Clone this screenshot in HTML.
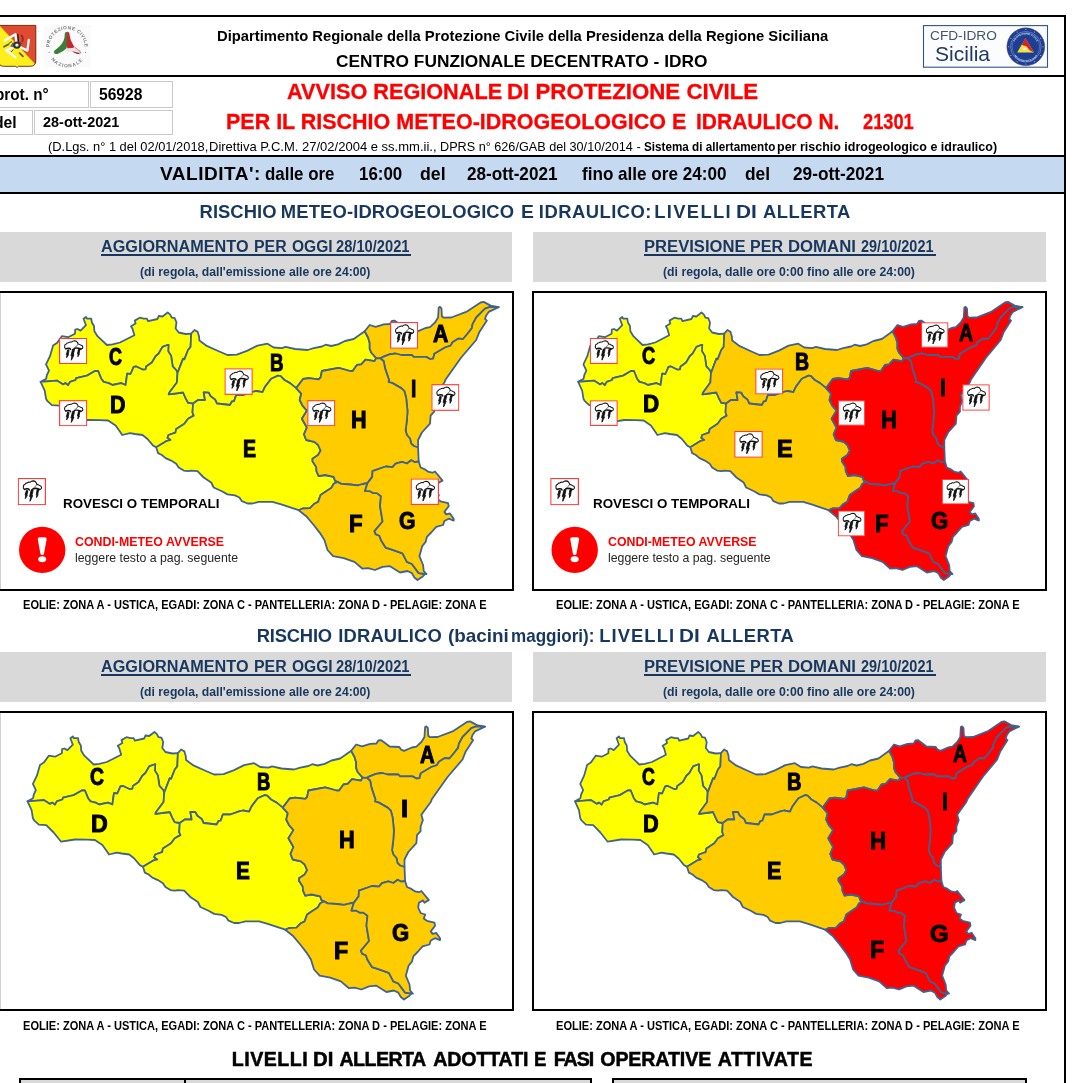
<!DOCTYPE html>
<html lang="it"><head><meta charset="utf-8"><title>Avviso regionale di protezione civile</title>
<style>
html,body{margin:0;padding:0;background:#fff}
html{width:1080px;height:1083px;overflow:hidden}
body{width:1080px;height:1083px;position:relative;overflow:hidden;font-family:"Liberation Sans",sans-serif}
.a{position:absolute}
.t{position:absolute;white-space:pre;line-height:1;transform-origin:0 0;font-weight:bold;margin:0}
.k{background:#000}
.g{background:#d9d9d9}
.bx{position:absolute;border:2px solid #000;box-sizing:border-box;background:#fff}
.cell{position:absolute;border:1px solid #c9c9c9;box-sizing:border-box}
</style></head><body>
<div class="a k" style="left:0;top:15px;width:1066px;height:2px"></div>
<div class="a k" style="left:1064px;top:15px;width:2px;height:1068px"></div>
<div class="a k" style="left:0;top:75px;width:1066px;height:2px"></div>
<div class="a" style="left:0;top:155px;width:1064px;height:39px;box-sizing:border-box;border-top:2px solid #000;border-bottom:2px solid #000;background:#c5d9f1"></div>
<div class="cell" style="left:-20px;top:81px;width:109px;height:27px"></div>
<div class="cell" style="left:90px;top:81px;width:83px;height:27px"></div>
<div class="cell" style="left:-20px;top:110px;width:53px;height:25px"></div>
<div class="cell" style="left:34px;top:110px;width:139px;height:25px"></div>
<div class="a g" style="left:0;top:232px;width:512px;height:50px"></div>
<div class="a g" style="left:532.5px;top:232px;width:513.5px;height:50px"></div>
<div class="bx" style="left:-2px;top:291px;width:515.5px;height:300px"></div>
<div class="a" style="left:0;top:293px;width:1px;height:296px;background:#cfcfcf"></div>
<div class="bx" style="left:532px;top:291px;width:515px;height:300px"></div>
<div class="a g" style="left:0;top:651.5px;width:512px;height:50px"></div>
<div class="a g" style="left:532.5px;top:651.5px;width:513.5px;height:50px"></div>
<div class="bx" style="left:-2px;top:710.5px;width:515.5px;height:300px"></div>
<div class="a" style="left:0;top:712.5px;width:1px;height:296px;background:#cfcfcf"></div>
<div class="bx" style="left:532px;top:710.5px;width:515px;height:300px"></div>
<div class="a" style="left:19px;top:1078px;width:573px;height:5px;box-sizing:border-box;border:2px solid #000;border-bottom:0;background:#d9d9d9"></div>
<div class="a k" style="left:184px;top:1078px;width:2px;height:5px"></div>
<div class="a" style="left:612px;top:1078px;width:415px;height:5px;box-sizing:border-box;border:2px solid #000;border-bottom:0;background:#d9d9d9"></div>
<svg class="a" style="left:0;top:0" width="1080" height="1083" viewBox="0 0 1080 1083">
<defs>
<path id="zC" d="M40.6,381.9 46.2,378.7 46.9,375 49,370.6 46,364.4 50,356.2 53.1,345.6 56.9,343.1 61.9,336.2 68.1,337.2 75,333.7 75.2,329.7 77.5,329 80.6,330.6 86,325.2 83.5,318.7 86,316.9 86.9,318.5 91.2,318.7 91.9,322.5 94,326 94.4,331.2 97.5,336.2 106.9,345 112.5,344.4 120,342.5 134.4,335.2 132.5,328.7 131,326.2 135.6,323.5 134.7,320.6 139.7,317.7 143.7,318.7 146.9,318.7 148.1,321.2 157.5,319 158.7,316 162.5,316.5 167.7,312.5 170,314.4 171.9,317.7 174.7,318.1 176.5,322.5 175.6,328.5 178.7,332.5 185.6,334 191.2,333.7 190.6,346.9 188.1,350 184.4,359.4 183.1,358.7 177.5,373.1 176.5,370.5 172.7,366.3 171.1,355.9 168.2,351.1 168.5,344.8 167.5,345 162.5,346.9 158.7,353.5 155.6,356.2 151.9,362.5 146.2,366.5 145.6,369.4 143.1,369.7 136.2,366.5 133.7,366.9 130.6,374 127.2,373.7 125.6,385 121.2,383.1 112.5,385 108.7,383.1 103.7,381.9 101.2,378.7 98.1,371 95,371 86.9,375.6 76.2,378.1 75.6,380 70,381.9 68.1,385.2 65.6,383.1 63.1,384.4 56.9,380.6Z"/>
<path id="zD" d="M40.6,381.9 56.9,380.6 63.1,384.4 65.6,383.1 68.1,385.2 70,381.9 75.6,380 76.2,378.1 86.9,375.6 95,371 98.1,371 101.2,378.7 103.7,381.9 108.7,383.1 112.5,385 121.2,383.1 125.6,385 127.2,373.7 130.6,374 133.7,366.9 136.2,366.5 143.1,369.7 145.6,369.4 146.2,366.5 151.9,362.5 155.6,356.2 158.7,353.5 162.5,346.9 167.5,345 168.5,344.8 168.2,351.1 171.1,355.9 172.7,366.3 176.5,370.5 177.5,373.1 176.9,382.5 169.4,392.5 168.7,394.4 183.1,392.5 185.6,398.1 188.1,402.7 193.1,403.5 192.5,412.5 193.7,415.6 188.1,418.7 184.4,423.7 176.2,429 175.4,432.7 168.5,435 167.5,437.7 170.6,440 166.2,441.2 156.2,447.2 153.1,445.6 147.5,439 142.5,435 135,434 130,433.1 122.2,435 120.6,432.5 115.6,425.5 108.1,420.5 100,420.2 88.1,420 74.3,422.2 66.8,413 59.4,405.6 51.9,405.2 47.5,401.2 46,398.7 44.7,390.6Z"/>
<path id="zB" d="M191.2,333.7 194.4,330 197.7,331.9 199,336.2 199.4,340.6 206.2,345.6 218.7,351.2 227.5,355 236.9,354.7 247.5,350.6 257.5,345.6 267.5,343.7 273.7,347.5 281.9,348.1 285.6,346.9 295,349 307.5,350 313.7,348.1 321.9,346.5 325.6,344.7 331.2,346 338.1,344.4 345,341 353.7,339 358.7,335.6 364.7,331.2 368.1,337.5 369.7,343.1 369.7,348.7 371.2,352.5 376.2,358.1 374.4,361.2 365.6,359.7 361.2,364.4 356.9,365 352.5,371.2 350,371 338.7,367.9 321.9,371 320.6,377.5 318.7,379.4 308.7,378.1 303.1,379 296.2,388.1 290,383.1 284.4,380 280.6,376.2 278.1,375.6 271.2,378.7 265,386.9 262.5,392.2 256.2,391 252.5,391.9 243.7,395 236.2,395 234,401.2 231.9,401.5 230,405 216.9,403.5 215,399.4 210.6,396.2 208.7,392.7 203.7,392.5 205,400 198.1,400 193.1,403.5 188.1,402.7 185.6,398.1 183.1,392.5 168.7,394.4 169.4,392.5 176.9,382.5 177.5,373.1 183.1,358.7 184.4,359.4 188.1,350 190.6,346.9Z"/>
<path id="zA" d="M364.7,331.2 369.7,325 375.6,326.9 383.7,324.4 390,324 391.9,321 394.4,320.6 396.9,322.2 403.2,327 412.9,327.5 414.8,330.2 417.6,331.4 425.5,328 430,327.2 435,322.5 438.1,317.5 438.7,307.5 440,306.9 441.5,308.7 441.9,316.2 443.7,317.7 451.2,317.5 466.2,311.9 480.6,302.5 483.7,301.9 490.6,305.6 498.7,307.1 490,306.9 485,308.7 476.2,317.5 472.5,324.4 471.9,328.1 467.5,333.7 463.1,339 458.1,338.7 452.5,342.2 450.6,345.6 445,347.5 434.4,353.7 433.1,358.7 430,359 426.2,356.9 413.7,356.9 411.9,355 401.2,355 395.6,353.5 389.4,354.4 382.5,357.2 380.3,358.3 376.2,358.1 371.2,352.5 369.7,348.7 369.7,343.1 368.1,337.5Z"/>
<path id="zI" d="M498.7,307.1 488.7,311.9 486.2,315.6 485,319 486.9,320.6 479.4,331.9 476.2,340 461.2,357.5 445.6,379.4 444.4,382.5 435,395.2 436.5,400.7 434.2,407 434.2,411.7 430.6,415.6 430,423.7 421.9,432.5 418.1,440 418.1,447.5 413.7,446 411.2,443.7 410,438.5 406.9,435 405.6,430.6 406.9,420 407.5,411.2 406.2,398.1 404.4,391.2 401.2,388.1 392.5,383.1 388.5,381.9 389,380 385,368.1 383.7,361.2 380.3,358.3 382.5,357.2 389.4,354.4 395.6,353.5 401.2,355 411.9,355 413.7,356.9 426.2,356.9 430,359 433.1,358.7 434.4,353.7 445,347.5 450.6,345.6 452.5,342.2 458.1,338.7 463.1,339 467.5,333.7 471.9,328.1 472.5,324.4 476.2,317.5 485,308.7 490,306.9Z"/>
<path id="zH" d="M296.2,388.1 303.1,379 308.7,378.1 318.7,379.4 320.6,377.5 321.9,371 338.7,367.9 350,371 352.5,371.2 356.9,365 361.2,364.4 365.6,359.7 374.4,361.2 376.2,358.1 380.3,358.3 383.7,361.2 385,368.1 389,380 388.5,381.9 392.5,383.1 401.2,388.1 404.4,391.2 406.2,398.1 407.5,411.2 406.9,420 405.6,430.6 406.9,435 410,438.5 411.2,443.7 413.7,446 418.1,447.5 418.7,461.5 415,462.2 411.2,460.2 406.9,463.5 401.9,461.9 395.6,463.7 392.5,467.2 385.6,466.5 372.5,471.2 372.2,476.9 367.5,483.1 363.1,484 357.5,485.4 350,484.5 341.2,483.9 337.5,481.9 335,480.6 333.7,476.9 325,475 318.7,476.2 316.5,471.2 316.2,466.9 312.5,461.2 312.5,458.7 318.1,455 320.6,450.6 318.1,445 314.4,441.9 306.2,440 304,434.4 306.9,427.5 301.9,418.7 306.9,410.6 302.5,405.6 299.7,400 301.2,393.7Z"/>
<path id="zE" d="M193.1,403.5 198.1,400 205,400 203.7,392.5 208.7,392.7 210.6,396.2 215,399.4 216.9,403.5 230,405 231.9,401.5 234,401.2 236.2,395 243.7,395 252.5,391.9 256.2,391 262.5,392.2 265,386.9 271.2,378.7 278.1,375.6 280.6,376.2 284.4,380 290,383.1 296.2,388.1 301.2,393.7 299.7,400 302.5,405.6 306.9,410.6 301.9,418.7 306.9,427.5 304,434.4 306.2,440 314.4,441.9 318.1,445 320.6,450.6 318.1,455 312.5,458.7 312.5,461.2 316.2,466.9 316.5,471.2 318.7,476.2 325,475 333.7,476.9 335,480.6 337.5,481.9 333.7,483.7 331.2,488.1 326.2,491.2 320.6,495 318.1,501.9 314.4,503.7 310,508.1 302.5,508.5 298.7,510.2 281.2,504.4 272.5,501.9 258.7,501.9 252.5,503.5 247.5,503.5 241.9,501.2 239.4,497.5 235,495.4 227.5,494.4 221.9,491.2 213.7,487.5 211.2,482.5 203.7,477.5 197.5,471.2 191.2,470.6 188.1,471.2 183.7,470.6 178.7,467.5 176.2,463.7 171.2,460.6 165.6,458.1 161.9,455 158.1,453.1 156.2,447.2 166.2,441.2 170.6,440 167.5,437.7 168.5,435 175.4,432.7 176.2,429 184.4,423.7 188.1,418.7 193.7,415.6 192.5,412.5Z"/>
<path id="zF" d="M337.5,481.9 341.2,483.9 350,484.5 357.5,485.4 363.1,484 367.5,483.1 365,491 370,491.2 373.1,493.1 376.9,493.1 381,496.2 380,506 382.6,521.5 374.5,531.1 375.6,534.1 379.4,535.8 381.2,540.6 385.6,547.6 391.2,549.4 402.5,553.4 406.9,561.9 411.9,564 418.7,573.1 425,574 423.1,576.2 417.5,580 414.4,577.5 411.9,573.1 407.5,571 400,572.5 390,566.2 382.5,566.9 375,570 368.1,568.1 362.5,568.7 354.4,561.9 343.7,558.1 333.1,556.2 327.5,550 324.4,540 320,533.1 313.7,525 306.2,516.2 298.7,510.2 302.5,508.5 310,508.1 314.4,503.7 318.1,501.9 320.6,495 326.2,491.2 331.2,488.1 333.7,483.7Z"/>
<path id="zG" d="M367.5,483.1 372.2,476.9 372.5,471.2 385.6,466.5 392.5,467.2 395.6,463.7 401.9,461.9 406.9,463.5 411.2,460.2 415,462.2 418.7,461.5 420.6,467.5 425,469.4 428.7,471.9 432.5,472.7 435,471.5 442.5,480.6 440,481.9 438.1,483.2 436.6,480.9 432.6,483.2 431.8,488 434.2,493.5 438.9,495 437.4,499 440.5,501.3 448.1,503.1 448.7,506.2 444.4,511.9 446.2,514.4 450,513.5 453.7,518.7 453.7,520.6 448.7,518.7 444.4,521 443.1,525 436.2,526.9 431.2,532.5 426.9,536.9 425.6,541.9 422.2,546.2 419.4,556.2 423.1,565 423.7,571 426.5,574 425,574 418.7,573.1 411.9,564 406.9,561.9 402.5,553.4 391.2,549.4 385.6,547.6 381.2,540.6 379.4,535.8 375.6,534.1 374.5,531.1 382.6,521.5 380,506 381,496.2 376.9,493.1 373.1,493.1 370,491.2 365,491Z"/>
</defs>
<g transform="matrix(1.0000 0 0 1.0000 0.00 0.00)" stroke="#3f628f" stroke-width="1.8" stroke-linejoin="round">
<use href="#zC" fill="#ffff00"/><use href="#zD" fill="#ffff00"/><use href="#zB" fill="#ffff00"/><use href="#zE" fill="#ffff00"/><use href="#zA" fill="#ffcc00"/><use href="#zI" fill="#ffcc00"/><use href="#zH" fill="#ffcc00"/><use href="#zF" fill="#ffcc00"/><use href="#zG" fill="#ffcc00"/>
</g>
<g transform="matrix(0.9699 0 0 1.0000 538.82 0.00)" stroke="#3f628f" stroke-width="1.8" stroke-linejoin="round">
<use href="#zC" fill="#ffff00"/><use href="#zD" fill="#ffff00"/><use href="#zB" fill="#ffcc00"/><use href="#zE" fill="#ffcc00"/><use href="#zA" fill="#ff0000"/><use href="#zI" fill="#ff0000"/><use href="#zH" fill="#ff0000"/><use href="#zF" fill="#ff0000"/><use href="#zG" fill="#ff0000"/>
</g>
<g transform="matrix(0.9987 0 0 1.0000 -13.05 419.50)" stroke="#3f628f" stroke-width="1.8" stroke-linejoin="round">
<use href="#zC" fill="#ffff00"/><use href="#zD" fill="#ffff00"/><use href="#zB" fill="#ffff00"/><use href="#zE" fill="#ffff00"/><use href="#zA" fill="#ffcc00"/><use href="#zI" fill="#ffcc00"/><use href="#zH" fill="#ffcc00"/><use href="#zF" fill="#ffcc00"/><use href="#zG" fill="#ffcc00"/>
</g>
<g transform="matrix(0.9692 0 0 1.0000 535.65 419.50)" stroke="#3f628f" stroke-width="1.8" stroke-linejoin="round">
<use href="#zC" fill="#ffff00"/><use href="#zD" fill="#ffff00"/><use href="#zB" fill="#ffcc00"/><use href="#zE" fill="#ffcc00"/><use href="#zA" fill="#ff0000"/><use href="#zI" fill="#ff0000"/><use href="#zH" fill="#ff0000"/><use href="#zF" fill="#ff0000"/><use href="#zG" fill="#ff0000"/>
</g>
<circle cx="42.2" cy="549.9" r="23.2" fill="#ff0000"/>
<path d="M37.8,539.5 Q37.6,537.2 40,537.2 L44.4,537.2 Q46.8,537.2 46.6,539.5 L44,553.7 Q43.8,555.1 42.2,555.1 Q40.6,555.1 40.4,553.7Z" fill="#fff"/>
<ellipse cx="42.2" cy="559.2" rx="4" ry="3" fill="#fff"/>
<circle cx="574.7" cy="549.9" r="23.2" fill="#ff0000"/>
<path d="M570.3,539.5 Q570.1,537.2 572.5,537.2 L576.9,537.2 Q579.3,537.2 579.1,539.5 L576.5,553.7 Q576.3,555.1 574.7,555.1 Q573.1,555.1 572.9,553.7Z" fill="#fff"/>
<ellipse cx="574.7" cy="559.2" rx="4" ry="3" fill="#fff"/>
<symbol id="wx" viewBox="0 0 28 27" preserveAspectRatio="none">
<rect x="0.6" y="0.6" width="26.8" height="25.8" fill="#fff" stroke="#ff3b3b" stroke-width="1.15"/>
<path d="M6.6,11.2 Q5.2,10.4 5.6,8.6 Q5.4,6.8 7.2,6.4 Q7.6,5 9.4,4.9 Q10.4,3.9 12.4,4.3 Q13.4,3 15.4,2.9 Q17.4,3 18.2,4.6 Q18.8,5.4 18.9,6.4 Q20.4,6.6 21.4,7.4 Q23.4,7.8 23.6,9.4 Q23.8,11 22,11.4" fill="none" stroke="#111" stroke-width="1.05" stroke-linejoin="round" stroke-linecap="round"/>
<path d="M18.9,6.4 Q18.4,8.4 16.2,9.4" fill="none" stroke="#444" stroke-width="0.7" stroke-linecap="round"/>
<path d="M6.8,11.3 Q8.6,10.2 10.8,10.9 L11.4,11.9 M15.2,10.6 Q18,9.8 21.8,11.3 L20,12.2" fill="none" stroke="#111" stroke-width="1.5" stroke-linecap="round" stroke-linejoin="round"/>
<path d="M9.9,12.4 Q9.8,15.2 9,17 L9.5,17.2 Q8.6,19 7.5,20.4 Q7.7,18.4 8,17.2 L7.3,17 Q8,14.6 8.5,12.4Z M15.3,11.5 Q15,14.6 14,17.2 L14.8,17.4 Q13.6,20.4 12.2,23 Q12.4,20.6 12.8,18.6 L11.8,18.4 Q12.6,15 13.5,11.5Z M20.5,11.8 Q20.4,14.4 19.8,16.2 L20.2,16.4 Q19.6,18 18.7,19.4 Q18.7,17.8 18.9,16.6 L18.3,16.4 Q18.8,14 19.2,11.8Z" fill="#111" stroke="#111" stroke-width="0.9" stroke-linejoin="round"/>
</symbol>
<!-- Regione Siciliana coat of arms -->
<g>
<clipPath id="shc"><path d="M-1.6,25.4 H35.8 V61 Q35.6,66.2 30.4,66.3 H18.5 L17.1,67.5 L15.7,66.3 H3.8 Q-1.4,66.2 -1.6,61Z"/></clipPath>
<g clip-path="url(#shc)">
<rect x="-3" y="24" width="40" height="45" fill="#fdee1c"/>
<path d="M-1.9,24 L37,24 L37,66.1Z" fill="#df4a30"/>
<g stroke="#fff" stroke-width="2.3" fill="none" stroke-linecap="round" stroke-linejoin="round">
<path d="M16.5,43.5 L15.4,34.2 L4.8,40.6"/><path d="M19,46.5 L27.4,50.6 L28.8,39.8"/><path d="M15,46.5 L6.2,50.4 L15.4,57.2"/>
</g>
<path d="M17.8,34.5 L18.6,42.5" stroke="#1e1e22" stroke-width="1.3" fill="none" stroke-linecap="round"/>
<path d="M21.6,35.4 Q23.6,38 22.4,41.4" stroke="#a6291f" stroke-width="1.9" fill="none" stroke-linecap="round"/>
<g stroke="#5d5a1c" stroke-width="1.7" fill="none" stroke-linecap="round">
<path d="M4,46.8 L8.6,44.2 M19.6,53.2 L23,56.4"/>
</g>
<path d="M12,41.5 L9,43.2 M13.5,49.5 L11,52 M20.5,42.5 L22.4,44" stroke="#3a3a30" stroke-width="0.9" fill="none"/>
<path d="M13.4,41.6 L10.2,46.4 L13.6,47.4Z" fill="#5b6470"/>
<ellipse cx="16.9" cy="45.1" rx="3.9" ry="3.6" fill="#2c3037"/>
<circle cx="16.9" cy="45.1" r="1.7" fill="#f1ece2"/>
</g>
<path d="M-1.6,25.4 H35.8 V61 Q35.6,66.2 30.4,66.3 H18.5 L17.1,67.5 L15.7,66.3 H3.8 Q-1.4,66.2 -1.6,61Z" fill="none" stroke="#5f2410" stroke-width="0.9"/>
</g>
<!-- Protezione Civile Nazionale -->
<g>
<rect x="44" y="25" width="46.7" height="42.5" fill="#fafafa"/>
<path id="pcT" d="M52.86,56.84 A17.5,17.5 0 1 1 81.54,56.84" fill="none"/>
<path id="pcB" d="M46.60,46.80 A20.6,20.6 0 0 0 87.80,46.80" fill="none"/>
<text font-family="Liberation Sans, sans-serif" font-size="4.8" font-weight="bold" fill="#7a7a7a" letter-spacing="0.45"><textPath href="#pcT" startOffset="50%" text-anchor="middle">PROTEZIONE CIVILE</textPath></text>
<text font-family="Liberation Sans, sans-serif" font-size="4.8" font-weight="bold" fill="#7a7a7a" letter-spacing="1.0"><textPath href="#pcB" startOffset="50%" text-anchor="middle">NAZIONALE</textPath></text>
<circle cx="49.1" cy="52.4" r="0.6" fill="#888"/><circle cx="85.5" cy="52.4" r="0.6" fill="#888"/>
<path d="M67.1,31.8 Q64.6,31.8 64.7,35 Q64.8,41 59.6,46.2 Q56.4,49 54.6,50.6 Q53.2,52.2 54.4,53.6 Q56,54.6 58.6,53.4 Q63.6,51.4 66.4,48.6 Q67.8,45 67.3,40 Z" fill="#3d7d3a"/>
<path d="M67.1,31.8 Q69.6,31.8 69.6,35 Q70,40 73.2,45 L74.8,47.4 Q71,48.6 67.2,48.4 Q66.6,44 67,38 Z" fill="#cc2230"/>
<path d="M66.4,48.4 Q71,48.8 74.8,47.2 Q77.6,49.8 80,51.2 Q81,52.6 80,53.8 Q76,51.4 66.2,51.4 Z" fill="#e9e4e4"/>
<path d="M74.8,47.2 Q77.6,49.8 80,51.2 Q81,52.6 80,53.8" fill="none" stroke="#c23a48" stroke-width="0.7"/>
<path d="M72,51.2 Q77,52 79.9,53.6 Q78.6,54.6 76,53.6 Q74.4,52.8 72,51.2Z" fill="#a9283c"/>
</g>
<!-- CFD-IDRO Sicilia -->
<g>
<rect x="923.5" y="25.6" width="124" height="41.6" fill="#fbfcfe" stroke="#2f5496" stroke-width="1.1"/>
<circle cx="1025.8" cy="46.8" r="19" fill="#1d3f93"/>
<circle cx="1025.8" cy="46.8" r="18.9" fill="none" stroke="#6b4b55" stroke-width="0.5"/>
<circle cx="1025.8" cy="46.8" r="15.3" fill="none" stroke="#aebfe6" stroke-width="0.45"/>
<circle cx="1025.8" cy="46.8" r="13.8" fill="none" stroke="#aebfe6" stroke-width="0.35"/>
<path id="emT" d="M1013.6,46.8 A12.2,12.2 0 0 1 1038,46.8" fill="none"/>
<path id="emB" d="M1011.6,47.8 A14.2,14.2 0 0 0 1040,47.8" fill="none"/>
<text font-family="Liberation Sans, sans-serif" font-size="2.6" font-weight="bold" fill="#c9d6f2" letter-spacing="0.1"><textPath href="#emT" startOffset="50%" text-anchor="middle">PROTEZIONE CIVILE</textPath></text>
<text font-family="Liberation Sans, sans-serif" font-size="2.6" font-weight="bold" fill="#c9d6f2" letter-spacing="0.1"><textPath href="#emB" startOffset="50%" text-anchor="middle">REGIONE SICILIANA</textPath></text>
<g fill="#c9d6f2">
<circle cx="1025.8" cy="29.6" r="0.5"/><circle cx="1025.8" cy="64" r="0.5"/><circle cx="1008.6" cy="46.8" r="0.5"/><circle cx="1043" cy="46.8" r="0.5"/>
<circle cx="1017.2" cy="31.9" r="0.5"/><circle cx="1034.4" cy="31.9" r="0.5"/><circle cx="1017.2" cy="61.7" r="0.5"/><circle cx="1034.4" cy="61.7" r="0.5"/>
<circle cx="1010.9" cy="38.2" r="0.5"/><circle cx="1040.7" cy="38.2" r="0.5"/><circle cx="1010.9" cy="55.4" r="0.5"/><circle cx="1040.7" cy="55.4" r="0.5"/>
</g>
<path d="M1025.4,38.2 L1034,52.6 L1017.2,52.6Z" fill="#f2e23a"/>
<path d="M1025.4,38.2 L1034,52.6 L1030,50.4 L1026.6,46.6 L1021.6,44.8Z" fill="#d4202c"/>
<path d="M1023,47.6 L1027.6,48.2 L1026,50.4 L1022.6,49.6Z" fill="#efe9d8"/>
</g>
<use href="#wx" x="59" y="337.9" width="28.3" height="26.2"/>
<use href="#wx" x="59" y="400.1" width="28.3" height="26.2"/>
<use href="#wx" x="224.4" y="368.2" width="28.4" height="26.7"/>
<use href="#wx" x="390" y="321.9" width="28.2" height="26.9"/>
<use href="#wx" x="307.2" y="400.1" width="28.1" height="26.2"/>
<use href="#wx" x="431.3" y="384.1" width="28.1" height="26.8"/>
<use href="#wx" x="410.6" y="478.4" width="28.4" height="26.6"/>
<use href="#wx" x="17.7" y="477.9" width="28.3" height="27.4"/>
<use href="#wx" x="589.7" y="337.9" width="28.1" height="26.1"/>
<use href="#wx" x="589.7" y="400.2" width="28.1" height="25.8"/>
<use href="#wx" x="755.2" y="368.4" width="28.1" height="26.1"/>
<use href="#wx" x="734.2" y="430.9" width="28.6" height="26.9"/>
<use href="#wx" x="837.7" y="510.4" width="27.6" height="26.1"/>
<use href="#wx" x="941.7" y="478.9" width="27.3" height="25.6"/>
<use href="#wx" x="920.9" y="322.2" width="27.6" height="25.6"/>
<use href="#wx" x="962.2" y="384.2" width="27.6" height="26.6"/>
<use href="#wx" x="837.9" y="400.2" width="27.4" height="25.6"/>
<use href="#wx" x="550.2" y="477.9" width="28.8" height="27.4"/>
</svg>
<div class="a" style="left:101px;top:254px;width:310.3px;height:2px;background:#17375e"></div>
<div class="a" style="left:643.7px;top:254px;width:291.9px;height:2px;background:#17375e"></div>
<div class="a" style="left:101px;top:674px;width:310.3px;height:2px;background:#17375e"></div>
<div class="a" style="left:643.7px;top:674px;width:291.9px;height:2px;background:#17375e"></div>
<div class="t" style="left:216.58px;top:29.00px;font-size:14.75px;transform:scaleX(1.0024)">Dipartimento Regionale della Protezione Civile della Presidenza della Regione Siciliana</div>
<div class="t" style="left:336.46px;top:53.00px;font-size:17.24px;transform:scaleX(1.0041)">CENTRO FUNZIONALE DECENTRATO - IDRO</div>
<div class="t" style="left:-5.45px;top:87.00px;font-size:16px;transform:scaleX(0.9539)">prot. n°</div>
<div class="t" style="left:99.46px;top:86.00px;font-size:16.3px;transform:scaleX(0.9582)">56928</div>
<div class="t" style="left:-6.49px;top:115.00px;font-size:16px;transform:scaleX(0.9828)">del</div>
<div class="t" style="left:43.25px;top:115.00px;font-size:14.3px;transform:scaleX(1.0107)">28-ott-2021</div>
<div class="t" style="left:286.51px;top:81.00px;font-size:22px;color:#f00;transform:scaleX(0.9849);-webkit-text-stroke:0.3px #f00">AVVISO REGIONALE</div>
<div class="t" style="left:506.76px;top:81.00px;font-size:22px;color:#f00;transform:scaleX(1.0123);-webkit-text-stroke:0.3px #f00">DI PROTEZIONE CIVILE</div>
<div class="t" style="left:226.01px;top:111.00px;font-size:22px;color:#f00;transform:scaleX(0.9763);-webkit-text-stroke:0.3px #f00">PER IL RISCHIO METEO-IDROGEOLOGICO E</div>
<div class="t" style="left:696.34px;top:111.00px;font-size:22px;color:#f00;transform:scaleX(0.9543);-webkit-text-stroke:0.3px #f00">IDRAULICO N.</div>
<div class="t" style="left:863.28px;top:111.00px;font-size:22px;color:#f00;transform:scaleX(0.8291);-webkit-text-stroke:0.3px #f00">21301</div>
<div class="t" style="left:48.10px;top:140.00px;font-size:13.4px;font-weight:normal;transform:scaleX(0.9602)">(D.Lgs. n° 1 del 02/01/2018,</div>
<div class="t" style="left:209.48px;top:140.00px;font-size:13.4px;font-weight:normal;transform:scaleX(0.9716)">Direttiva P.C.M. 27/02/2004 e ss.mm.ii.,</div>
<div class="t" style="left:439.71px;top:140.00px;font-size:13.4px;font-weight:normal;transform:scaleX(0.9449)">DPRS n° 626/GAB del 30/10/2014 -</div>
<div class="t" style="left:643.52px;top:140.00px;font-size:13.4px;transform:scaleX(0.8733)">Sistema di allertamento</div>
<div class="t" style="left:777.22px;top:140.00px;font-size:13.4px;transform:scaleX(0.9331)">per rischio idrogeologico e idraulico)</div>
<div class="t" style="left:160.00px;top:164.00px;font-size:19px;letter-spacing:0.516px">VALIDITA':</div>
<div class="t" style="left:265.47px;top:164.00px;font-size:19px;transform:scaleX(0.8887)">dalle ore</div>
<div class="t" style="left:359.44px;top:164.00px;font-size:19px;transform:scaleX(0.8898)">16:00</div>
<div class="t" style="left:420.45px;top:164.00px;font-size:19px;transform:scaleX(0.9326)">del</div>
<div class="t" style="left:466.96px;top:164.00px;font-size:19px;transform:scaleX(0.9018)">28-ott-2021</div>
<div class="t" style="left:582.23px;top:164.00px;font-size:19px;transform:scaleX(0.9000)">fino alle ore 24:00</div>
<div class="t" style="left:744.96px;top:164.00px;font-size:19px;transform:scaleX(0.9131)">del</div>
<div class="t" style="left:793.16px;top:164.00px;font-size:19px;transform:scaleX(0.9068)">29-ott-2021</div>
<div class="t" style="left:199.55px;top:203.00px;font-size:18.4px;color:#17375e;letter-spacing:0.048px">RISCHIO</div>
<div class="t" style="left:280.85px;top:203.00px;font-size:18.4px;color:#17375e;letter-spacing:0.130px">METEO-IDROGEOLOGICO</div>
<div class="t" style="left:521.29px;top:203.00px;font-size:18.4px;color:#17375e;transform:scaleX(1.0529)">E</div>
<div class="t" style="left:538.85px;top:203.00px;font-size:18.4px;color:#17375e;letter-spacing:0.482px">IDRAULICO:</div>
<div class="t" style="left:654.35px;top:203.00px;font-size:18.4px;color:#17375e;letter-spacing:1.292px">LIVELLI</div>
<div class="t" style="left:736.20px;top:203.00px;font-size:18.4px;color:#17375e;transform:scaleX(1.1322)">DI</div>
<div class="t" style="left:762.91px;top:203.00px;font-size:18.4px;color:#17375e;letter-spacing:0.491px">ALLERTA</div>
<div class="t" style="left:101.05px;top:239.00px;font-size:15.8px;color:#17375e;transform:scaleX(1.0274)">AGGIORNAMENTO</div>
<div class="t" style="left:254.31px;top:239.00px;font-size:15.8px;color:#17375e;transform:scaleX(1.0064)">PER</div>
<div class="t" style="left:292.01px;top:239.00px;font-size:15.8px;color:#17375e;transform:scaleX(0.9841)">OGGI</div>
<div class="t" style="left:336.24px;top:239.00px;font-size:15.8px;color:#17375e;transform:scaleX(0.9298)">28/10/2021</div>
<div class="t" style="left:643.66px;top:239.00px;font-size:15.8px;color:#17375e;transform:scaleX(1.0507)">PREVISIONE</div>
<div class="t" style="left:750.30px;top:239.00px;font-size:15.8px;color:#17375e;transform:scaleX(1.0161)">PER</div>
<div class="t" style="left:788.35px;top:239.00px;font-size:15.8px;color:#17375e;transform:scaleX(1.0603)">DOMANI</div>
<div class="t" style="left:860.85px;top:239.00px;font-size:15.8px;color:#17375e;transform:scaleX(0.9170)">29/10/2021</div>
<div class="t" style="left:140.40px;top:266.00px;font-size:12.2px;color:#17375e;transform:scaleX(1.0027)">(di regola, dall'emissione alle ore 24:00)</div>
<div class="t" style="left:663.40px;top:266.00px;font-size:12.2px;color:#17375e;transform:scaleX(1.0079)">(di regola, dalle ore 0:00 fino alle ore 24:00)</div>
<div class="t" style="left:101.05px;top:659.00px;font-size:15.8px;color:#17375e;transform:scaleX(1.0274)">AGGIORNAMENTO</div>
<div class="t" style="left:254.31px;top:659.00px;font-size:15.8px;color:#17375e;transform:scaleX(1.0064)">PER</div>
<div class="t" style="left:292.01px;top:659.00px;font-size:15.8px;color:#17375e;transform:scaleX(0.9841)">OGGI</div>
<div class="t" style="left:336.24px;top:659.00px;font-size:15.8px;color:#17375e;transform:scaleX(0.9298)">28/10/2021</div>
<div class="t" style="left:643.66px;top:659.00px;font-size:15.8px;color:#17375e;transform:scaleX(1.0507)">PREVISIONE</div>
<div class="t" style="left:750.30px;top:659.00px;font-size:15.8px;color:#17375e;transform:scaleX(1.0161)">PER</div>
<div class="t" style="left:788.35px;top:659.00px;font-size:15.8px;color:#17375e;transform:scaleX(1.0603)">DOMANI</div>
<div class="t" style="left:860.85px;top:659.00px;font-size:15.8px;color:#17375e;transform:scaleX(0.9170)">29/10/2021</div>
<div class="t" style="left:140.40px;top:686.00px;font-size:12.2px;color:#17375e;transform:scaleX(1.0027)">(di regola, dall'emissione alle ore 24:00)</div>
<div class="t" style="left:663.40px;top:686.00px;font-size:12.2px;color:#17375e;transform:scaleX(1.0079)">(di regola, dalle ore 0:00 fino alle ore 24:00)</div>
<div class="t" style="left:22.97px;top:599.00px;font-size:12.8px;transform:scaleX(0.8641)">EOLIE: ZONA A - USTICA, EGADI: ZONA C - PANTELLERIA: ZONA D - PELAGIE: ZONA E</div>
<div class="t" style="left:556.27px;top:599.00px;font-size:12.8px;transform:scaleX(0.8641)">EOLIE: ZONA A - USTICA, EGADI: ZONA C - PANTELLERIA: ZONA D - PELAGIE: ZONA E</div>
<div class="t" style="left:22.97px;top:1020.00px;font-size:12.8px;transform:scaleX(0.8641)">EOLIE: ZONA A - USTICA, EGADI: ZONA C - PANTELLERIA: ZONA D - PELAGIE: ZONA E</div>
<div class="t" style="left:556.27px;top:1020.00px;font-size:12.8px;transform:scaleX(0.8641)">EOLIE: ZONA A - USTICA, EGADI: ZONA C - PANTELLERIA: ZONA D - PELAGIE: ZONA E</div>
<div class="t" style="left:256.65px;top:627.00px;font-size:18.4px;color:#17375e;letter-spacing:-0.185px">RISCHIO</div>
<div class="t" style="left:338.25px;top:627.00px;font-size:18.4px;color:#17375e;letter-spacing:0.168px">IDRAULICO</div>
<div class="t" style="left:448.21px;top:627.00px;font-size:18.4px;color:#17375e;transform:scaleX(1.0271)">(bacini</div>
<div class="t" style="left:511.33px;top:627.00px;font-size:18.4px;color:#17375e;transform:scaleX(0.9281)">maggiori):</div>
<div class="t" style="left:599.25px;top:627.00px;font-size:18.4px;color:#17375e;letter-spacing:1.058px">LIVELLI</div>
<div class="t" style="left:679.41px;top:627.00px;font-size:18.4px;color:#17375e;transform:scaleX(1.1260)">DI</div>
<div class="t" style="left:706.41px;top:627.00px;font-size:18.4px;color:#17375e;letter-spacing:0.491px">ALLERTA</div>
<div class="t" style="left:231.83px;top:1050.00px;font-size:19.6px;letter-spacing:0.471px;-webkit-text-stroke:0.5px #000">LIVELLI</div>
<div class="t" style="left:312.58px;top:1050.00px;font-size:19.6px;transform:scaleX(1.0339);-webkit-text-stroke:0.5px #000">DI</div>
<div class="t" style="left:339.54px;top:1050.00px;font-size:19.6px;letter-spacing:-0.570px;-webkit-text-stroke:0.5px #000">ALLERTA</div>
<div class="t" style="left:433.24px;top:1050.00px;font-size:19.6px;letter-spacing:-0.128px;-webkit-text-stroke:0.5px #000">ADOTTATI</div>
<div class="t" style="left:534.08px;top:1050.00px;font-size:19.6px;transform:scaleX(0.9531);-webkit-text-stroke:0.5px #000">E</div>
<div class="t" style="left:553.73px;top:1050.00px;font-size:19.6px;letter-spacing:-1.027px;-webkit-text-stroke:0.5px #000">FASI</div>
<div class="t" style="left:600.24px;top:1050.00px;font-size:19.6px;letter-spacing:-0.098px;-webkit-text-stroke:0.5px #000">OPERATIVE</div>
<div class="t" style="left:717.74px;top:1050.00px;font-size:19.6px;letter-spacing:0.481px;-webkit-text-stroke:0.5px #000">ATTIVATE</div>
<div class="t" style="left:62.87px;top:497.00px;font-size:13.3px;transform:scaleX(1.0032)">ROVESCI O TEMPORALI</div>
<div class="t" style="left:75.31px;top:535.00px;font-size:13px;color:#f00;transform:scaleX(0.9510)">CONDI-METEO AVVERSE</div>
<div class="t" style="left:74.93px;top:551.00px;font-size:13px;font-weight:normal;color:#262626;transform:scaleX(0.9480)">leggere testo a pag. seguente</div>
<div class="t" style="left:593.36px;top:497.00px;font-size:13.3px;transform:scaleX(1.0065)">ROVESCI O TEMPORALI</div>
<div class="t" style="left:608.31px;top:535.00px;font-size:13px;color:#f00;transform:scaleX(0.9478)">CONDI-METEO AVVERSE</div>
<div class="t" style="left:607.93px;top:551.00px;font-size:13px;font-weight:normal;color:#262626;transform:scaleX(0.9450)">leggere testo a pag. seguente</div>
<div class="t" style="left:929.66px;top:29.00px;font-size:13.2px;font-weight:normal;color:#44546a;transform:scaleX(1.0374)">CFD-IDRO</div>
<div class="t" style="left:935.04px;top:43.00px;font-size:21px;font-weight:normal;color:#203864;transform:scaleX(1.0032)">Sicilia</div>
<div class="t" style="left:109.34px;top:346.00px;font-size:23.2px;transform:scaleX(0.7763);-webkit-text-stroke:1.0px #000">C</div>
<div class="t" style="left:110.36px;top:394.00px;font-size:23.2px;transform:scaleX(0.9241);-webkit-text-stroke:1.0px #000">D</div>
<div class="t" style="left:270.33px;top:352.00px;font-size:23.2px;transform:scaleX(0.8069);-webkit-text-stroke:1.0px #000">B</div>
<div class="t" style="left:433.27px;top:323.00px;font-size:23.2px;transform:scaleX(0.9154);-webkit-text-stroke:1.0px #000">A</div>
<div class="t" style="left:410.50px;top:378.00px;font-size:23.2px;transform:scaleX(0.8276);-webkit-text-stroke:1.0px #000">I</div>
<div class="t" style="left:351.35px;top:409.00px;font-size:23.2px;transform:scaleX(0.9292);-webkit-text-stroke:1.0px #000">H</div>
<div class="t" style="left:242.98px;top:438.00px;font-size:23.2px;transform:scaleX(0.8425);-webkit-text-stroke:1.0px #000">E</div>
<div class="t" style="left:349.11px;top:513.00px;font-size:23.2px;transform:scaleX(0.9613);-webkit-text-stroke:1.0px #000">F</div>
<div class="t" style="left:399.24px;top:510.00px;font-size:23.2px;transform:scaleX(0.9154);-webkit-text-stroke:1.0px #000">G</div>
<div class="t" style="left:641.63px;top:345.00px;font-size:23.2px;transform:scaleX(0.7891);-webkit-text-stroke:1.0px #000">C</div>
<div class="t" style="left:642.80px;top:393.00px;font-size:23.2px;transform:scaleX(0.9655);-webkit-text-stroke:1.0px #000">D</div>
<div class="t" style="left:794.78px;top:351.00px;font-size:23.2px;transform:scaleX(0.8414);-webkit-text-stroke:1.0px #000">B</div>
<div class="t" style="left:959.39px;top:322.00px;font-size:23.2px;transform:scaleX(0.8464);-webkit-text-stroke:1.0px #000">A</div>
<div class="t" style="left:939.88px;top:377.00px;font-size:23.2px;transform:scaleX(0.9103);-webkit-text-stroke:1.0px #000">I</div>
<div class="t" style="left:881.11px;top:409.00px;font-size:23.2px;transform:scaleX(0.9583);-webkit-text-stroke:1.0px #000">H</div>
<div class="t" style="left:776.54px;top:438.00px;font-size:23.2px;transform:scaleX(1.0065);-webkit-text-stroke:1.0px #000">E</div>
<div class="t" style="left:874.61px;top:513.00px;font-size:23.2px;transform:scaleX(0.9613);-webkit-text-stroke:1.0px #000">F</div>
<div class="t" style="left:931.00px;top:510.00px;font-size:23.2px;transform:scaleX(0.9592);-webkit-text-stroke:1.0px #000">G</div>
<div class="t" style="left:90.40px;top:766.00px;font-size:23.2px;transform:scaleX(0.8340);-webkit-text-stroke:1.0px #000">C</div>
<div class="t" style="left:91.05px;top:813.00px;font-size:23.2px;-webkit-text-stroke:1.0px #000">D</div>
<div class="t" style="left:256.85px;top:771.00px;font-size:23.2px;transform:scaleX(0.7931);-webkit-text-stroke:1.0px #000">B</div>
<div class="t" style="left:419.68px;top:744.00px;font-size:23.2px;transform:scaleX(0.8715);-webkit-text-stroke:1.0px #000">A</div>
<div class="t" style="left:400.80px;top:798.00px;font-size:23.2px;transform:scaleX(1.1034);-webkit-text-stroke:1.0px #000">I</div>
<div class="t" style="left:339.44px;top:829.00px;font-size:23.2px;transform:scaleX(0.9365);-webkit-text-stroke:1.0px #000">H</div>
<div class="t" style="left:236.20px;top:860.00px;font-size:23.2px;transform:scaleX(0.8947);-webkit-text-stroke:1.0px #000">E</div>
<div class="t" style="left:333.95px;top:940.00px;font-size:23.2px;transform:scaleX(1.0031);-webkit-text-stroke:1.0px #000">F</div>
<div class="t" style="left:391.81px;top:922.00px;font-size:23.2px;transform:scaleX(0.9530);-webkit-text-stroke:1.0px #000">G</div>
<div class="t" style="left:641.94px;top:766.00px;font-size:23.2px;transform:scaleX(0.7698);-webkit-text-stroke:1.0px #000">C</div>
<div class="t" style="left:642.84px;top:813.00px;font-size:23.2px;transform:scaleX(0.9379);-webkit-text-stroke:1.0px #000">D</div>
<div class="t" style="left:787.05px;top:771.00px;font-size:23.2px;transform:scaleX(0.8621);-webkit-text-stroke:1.0px #000">B</div>
<div class="t" style="left:952.60px;top:743.00px;font-size:23.2px;transform:scaleX(0.8339);-webkit-text-stroke:1.0px #000">A</div>
<div class="t" style="left:941.94px;top:791.00px;font-size:23.2px;transform:scaleX(0.9379);-webkit-text-stroke:1.0px #000">I</div>
<div class="t" style="left:869.80px;top:830.00px;font-size:23.2px;transform:scaleX(0.9655);-webkit-text-stroke:1.0px #000">H</div>
<div class="t" style="left:766.65px;top:860.00px;font-size:23.2px;transform:scaleX(0.9320);-webkit-text-stroke:1.0px #000">E</div>
<div class="t" style="left:870.05px;top:939.00px;font-size:23.2px;transform:scaleX(1.0031);-webkit-text-stroke:1.0px #000">F</div>
<div class="t" style="left:929.75px;top:923.00px;font-size:23.2px;transform:scaleX(1.0345);-webkit-text-stroke:1.0px #000">G</div>
</body></html>
